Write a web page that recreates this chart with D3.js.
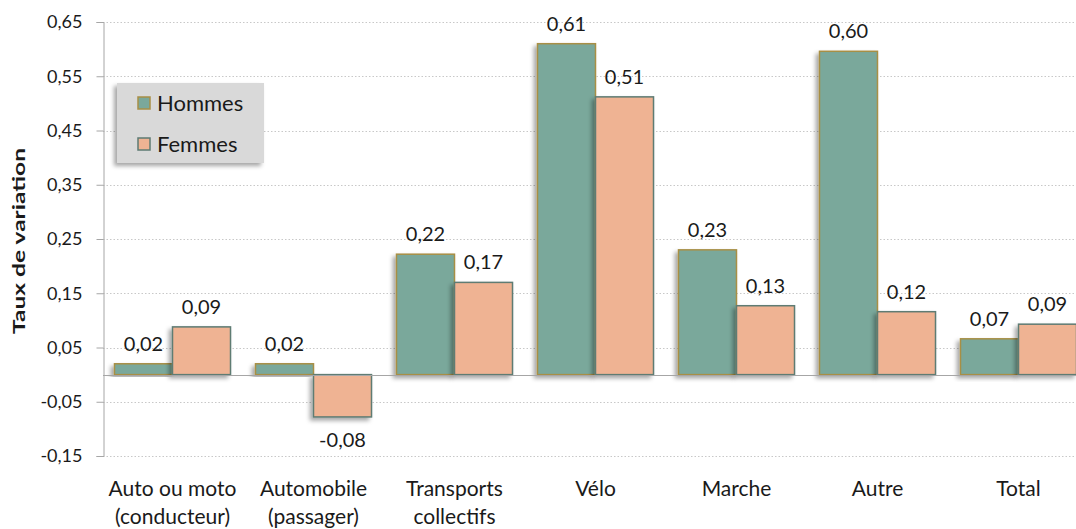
<!DOCTYPE html>
<html>
<head>
<meta charset="utf-8">
<script src="https://cdn.jsdelivr.net/npm/d3@7"></script>
<style>
  body { margin: 0; background: #fff; }
  text { font-family: Lato, "Open Sans", sans-serif; fill: #1a1a1a; }
</style>
</head>
<body>
<svg width="1076" height="529"></svg>
<script>
// data
const categories = [["Auto ou moto", "(conducteur)"], ["Automobile", "(passager)"], ["Transports", "collectifs"],
  ["Vélo"], ["Marche"], ["Autre"], ["Total"]];
const series = ["Hommes", "Femmes"];
const hommes = [0.02, 0.02, 0.222, 0.61, 0.23, 0.596, 0.066];
const femmes = [0.088, -0.078, 0.17, 0.512, 0.127, 0.116, 0.093];
const yTicks = [-0.15, -0.05, 0.05, 0.15, 0.25, 0.35, 0.45, 0.55, 0.65];

const fill = { Hommes: "#7aa89b", Femmes: "#efb393" };
const stroke = { Hommes: "#a88f45", Femmes: "#5e7b73" };

const svg = d3.select("svg");
const defs = svg.append("defs");
const f = defs.append("filter").attr("id", "shadow")
  .attr("x", "-20%").attr("y", "-20%").attr("width", "140%").attr("height", "140%");
f.append("feDropShadow").attr("dx", -3).attr("dy", 3).attr("stdDeviation", 2)
  .attr("flood-color", "#000").attr("flood-opacity", 0.35);

// scales
const y = d3.scaleLinear().domain([-0.15, 0.65]).range([456, 22]);
const x = d3.scaleBand().domain(d3.range(categories.length))
  .range([102, 1089]).paddingInner(0.177).paddingOuter(0.0885);
const x1 = d3.scaleBand().domain(series).range([0, x.bandwidth()]);
const fmt = v => d3.format(".2f")(v).replace(".", ",").replace("−", "-");

// gridlines
svg.append("g").selectAll("line").data(yTicks).join("line")
  .attr("x1", 103).attr("x2", 1076)
  .attr("y1", d => Math.round(y(d)) + 0.5).attr("y2", d => Math.round(y(d)) + 0.5)
  .attr("stroke", "#c8c8c8").attr("stroke-dasharray", "1.5,2");

// y axis
const yAxis = svg.append("g").attr("transform", "translate(103.5,0)")
  .call(d3.axisLeft(y).tickValues(yTicks).tickSize(7).tickFormat(fmt));
yAxis.select(".domain").attr("stroke", "#a6a6a6");
yAxis.selectAll(".tick line").attr("stroke", "#a6a6a6");
yAxis.selectAll(".tick text").attr("font-size", 18).attr("fill", "#1a1a1a")
  .style("font-family", "Lato, 'Open Sans', sans-serif").attr("x", -21);

svg.append("text").attr("transform", "translate(25,241) rotate(-90)")
  .attr("text-anchor", "middle").attr("font-size", 17).attr("font-weight", "bold")
  .attr("textLength", 186).attr("lengthAdjust", "spacingAndGlyphs")
  .text("Taux de variation");

// bars
const rows = categories.map((c, i) => [
  { s: "Hommes", i, v: hommes[i] },
  { s: "Femmes", i, v: femmes[i] }
]);
const groups = svg.append("g").selectAll("g").data(rows).join("g")
  .attr("transform", (d, i) => `translate(${x(i)},0)`);
groups.selectAll("rect").data(d => d).join("rect")
  .attr("x", d => x1(d.s))
  .attr("width", x1.bandwidth())
  .attr("y", d => y(Math.max(0, d.v)))
  .attr("height", d => Math.abs(y(d.v) - y(0)))
  .attr("fill", d => fill[d.s]).attr("stroke", d => stroke[d.s]).attr("stroke-width", 1.5)
  .attr("filter", "url(#shadow)");

// zero line
svg.append("line").attr("x1", 103).attr("x2", 1076)
  .attr("y1", Math.round(y(0)) + 0.5).attr("y2", Math.round(y(0)) + 0.5)
  .attr("stroke", "#a6a6a6").attr("stroke-width", 1.2);

// value labels
groups.selectAll("text.val").data(d => d).join("text").attr("class", "val")
  .attr("x", d => x1(d.s) + x1.bandwidth() / 2)
  .attr("y", d => d.v >= 0 ? y(d.v) - 13 : y(d.v) + 30)
  .attr("text-anchor", "middle").attr("font-size", 20)
  .text(d => fmt(d.v));

// category labels
const cat = svg.append("g").selectAll("text").data(categories).join("text")
  .attr("text-anchor", "middle").attr("font-size", 21)
  .attr("x", (d, i) => x(i) + x.bandwidth() / 2).attr("y", 496);
cat.selectAll("tspan").data(d => d).join("tspan")
  .attr("x", function () { return this.parentNode.getAttribute("x"); })
  .attr("dy", (d, j) => j === 0 ? 0 : 28)
  .text(d => d);

// legend
const lg = svg.append("g").attr("transform", "translate(117,83)");
lg.append("rect").attr("width", 147).attr("height", 80).attr("fill", "#d9d9d9")
  .attr("filter", "url(#shadow)");
series.forEach((s, k) => {
  lg.append("rect").attr("x", 21).attr("y", 14 + k * 41).attr("width", 12).attr("height", 12)
    .attr("fill", fill[s]).attr("stroke", stroke[s]).attr("stroke-width", 1.5);
  lg.append("text").attr("x", 40).attr("y", 28 + k * 41).attr("font-size", 22).text(s);
});
</script>
</body>
</html>
